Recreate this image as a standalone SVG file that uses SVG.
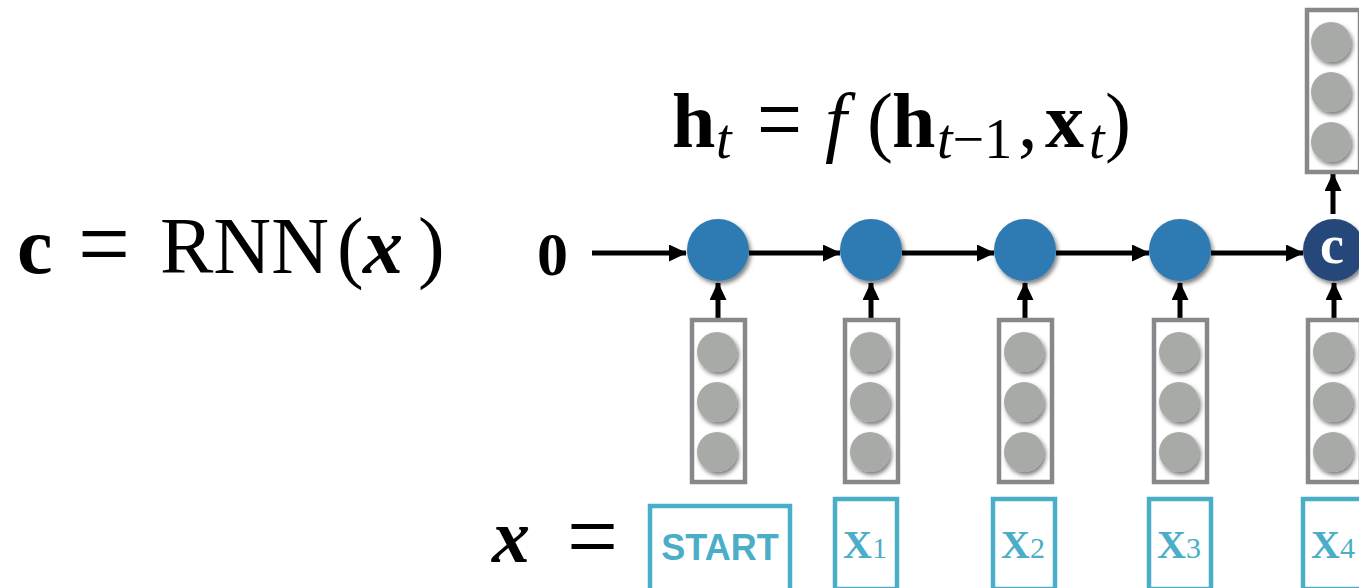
<svg xmlns="http://www.w3.org/2000/svg" width="1359" height="588" viewBox="0 0 1359 588">
<style>
.m{font-family:"Liberation Serif","Times New Roman",serif;fill:#000}
.b{font-weight:bold}
.i{font-style:italic}
.hid{fill:#2f7ab2}
.cnode{fill:#28477a}
.vec{fill:#fff;stroke:#86888b;stroke-width:4.5}
.dot{fill:#a8aaa8}
.inbox{fill:#fff;stroke:#4aaec8;stroke-width:4.5}
.tok{font-family:"Liberation Serif","Times New Roman",serif;font-weight:bold;fill:#4aaec8}
.conn line{stroke:#000;stroke-width:5}
</style>
<defs>
<marker id="ah" markerUnits="userSpaceOnUse" markerWidth="18" markerHeight="17" refX="17" refY="8.5" orient="auto">
<path d="M0,0 L18,8.5 L0,17 z" fill="#000"/>
</marker>
<filter id="sh" x="-30%" y="-30%" width="160%" height="160%">
<feDropShadow dx="2" dy="3" stdDeviation="2" flood-color="#000" flood-opacity="0.5"/>
</filter>
</defs>
<rect width="1359" height="588" fill="#fff"/>

<g id="formula-c">
<text class="m b" x="17" y="273" font-size="80">c</text>
<text class="m" x="78" y="273" font-size="80" textLength="52" lengthAdjust="spacingAndGlyphs" transform="translate(0,-75.6) scale(1,1.3)">=</text>
<text class="m" x="160" y="273" font-size="80">RNN</text>
<text class="m" x="337" y="273" font-size="80">(</text>
<text class="m b i" x="363" y="273" font-size="80">x</text>
<text class="m" x="418" y="273" font-size="80">)</text>
</g>

<g id="formula-h">
<text class="m b" x="672" y="147" font-size="78">h</text>
<text class="m i" x="716" y="158" font-size="56">t</text>
<text class="m" x="757" y="147" font-size="78" textLength="45" lengthAdjust="spacingAndGlyphs" transform="translate(0,-38) scale(1,1.3)">=</text>
<text class="m i" x="825" y="147" font-size="78">f</text>
<text class="m" x="867" y="147" font-size="78">(</text>
<text class="m b" x="892" y="147" font-size="78">h</text>
<text class="m" x="937" y="158" font-size="56"><tspan class="i">t</tspan>−1</text>
<text class="m" x="1018" y="147" font-size="78">,</text>
<text class="m b" x="1045" y="147" font-size="78">x</text>
<text class="m i" x="1089" y="158" font-size="56">t</text>
<text class="m" x="1105" y="147" font-size="78">)</text>
</g>

<g id="zero"><text class="m b" x="537" y="275" font-size="62">0</text></g>

<g id="formula-x">
<text class="m b i" x="492" y="562" font-size="76">x</text>
<text class="m" x="567" y="564" font-size="76" textLength="51" lengthAdjust="spacingAndGlyphs" transform="translate(0,-163) scale(1,1.3)">=</text>
</g>

<g id="connectors" class="conn">
<line x1="592" y1="253" x2="686" y2="253" marker-end="url(#ah)"/>
<line x1="749" y1="253" x2="840" y2="253" marker-end="url(#ah)"/>
<line x1="902" y1="253" x2="994" y2="253" marker-end="url(#ah)"/>
<line x1="1056" y1="253" x2="1149" y2="253" marker-end="url(#ah)"/>
<line x1="1211" y1="253" x2="1303" y2="253" marker-end="url(#ah)"/>
<line x1="718" y1="318" x2="718" y2="283" marker-end="url(#ah)"/>
<line x1="871" y1="318" x2="871" y2="283" marker-end="url(#ah)"/>
<line x1="1025" y1="318" x2="1025" y2="283" marker-end="url(#ah)"/>
<line x1="1180" y1="318" x2="1180" y2="283" marker-end="url(#ah)"/>
<line x1="1334" y1="318" x2="1334" y2="283" marker-end="url(#ah)"/>
<line x1="1333" y1="214" x2="1333" y2="174" marker-end="url(#ah)"/>
</g>

<g id="h1"><circle class="hid" cx="718" cy="250" r="31" filter="url(#sh)"/></g>
<g id="h2"><circle class="hid" cx="871" cy="250" r="31" filter="url(#sh)"/></g>
<g id="h3"><circle class="hid" cx="1025" cy="250" r="31" filter="url(#sh)"/></g>
<g id="h4"><circle class="hid" cx="1180" cy="250" r="31" filter="url(#sh)"/></g>
<g id="c-node"><circle class="cnode" cx="1334" cy="250" r="31" filter="url(#sh)"/>
<text class="m b" x="1332" y="263" font-size="54" style="fill:#fff" text-anchor="middle">c</text></g>

<g id="vec1"><rect class="vec" x="692" y="320" width="53" height="162"/>
<circle class="dot" cx="717" cy="352" r="20" filter="url(#sh)"/><circle class="dot" cx="717" cy="402" r="20" filter="url(#sh)"/><circle class="dot" cx="717" cy="452" r="20" filter="url(#sh)"/></g>
<g id="vec2"><rect class="vec" x="845" y="320" width="53" height="162"/>
<circle class="dot" cx="870" cy="352" r="20" filter="url(#sh)"/><circle class="dot" cx="870" cy="402" r="20" filter="url(#sh)"/><circle class="dot" cx="870" cy="452" r="20" filter="url(#sh)"/></g>
<g id="vec3"><rect class="vec" x="999" y="320" width="53" height="162"/>
<circle class="dot" cx="1024" cy="352" r="20" filter="url(#sh)"/><circle class="dot" cx="1024" cy="402" r="20" filter="url(#sh)"/><circle class="dot" cx="1024" cy="452" r="20" filter="url(#sh)"/></g>
<g id="vec4"><rect class="vec" x="1154" y="320" width="53" height="162"/>
<circle class="dot" cx="1179" cy="352" r="20" filter="url(#sh)"/><circle class="dot" cx="1179" cy="402" r="20" filter="url(#sh)"/><circle class="dot" cx="1179" cy="452" r="20" filter="url(#sh)"/></g>
<g id="vec5"><rect class="vec" x="1308" y="320" width="53" height="162"/>
<circle class="dot" cx="1333" cy="352" r="20" filter="url(#sh)"/><circle class="dot" cx="1333" cy="402" r="20" filter="url(#sh)"/><circle class="dot" cx="1333" cy="452" r="20" filter="url(#sh)"/></g>
<g id="vec-out"><rect class="vec" x="1307" y="10" width="53" height="162"/>
<circle class="dot" cx="1331" cy="42" r="20" filter="url(#sh)"/><circle class="dot" cx="1331" cy="92" r="20" filter="url(#sh)"/><circle class="dot" cx="1331" cy="142" r="20" filter="url(#sh)"/></g>

<g id="tok-start"><rect class="inbox" x="650" y="506" width="140" height="90"/>
<text x="720" y="560" font-family="Liberation Sans,Arial,sans-serif" font-weight="bold" font-size="36" fill="#4aaec8" text-anchor="middle">START</text></g>
<g id="tok-x1"><rect class="inbox" x="835" y="499" width="62" height="90"/>
<text class="tok" x="843" y="558" font-size="40">X<tspan font-size="30" font-weight="normal">1</tspan></text></g>
<g id="tok-x2"><rect class="inbox" x="993" y="499" width="62" height="90"/>
<text class="tok" x="1001" y="558" font-size="40">X<tspan font-size="30" font-weight="normal">2</tspan></text></g>
<g id="tok-x3"><rect class="inbox" x="1149" y="499" width="62" height="90"/>
<text class="tok" x="1157" y="558" font-size="40">X<tspan font-size="30" font-weight="normal">3</tspan></text></g>
<g id="tok-x4"><rect class="inbox" x="1303" y="499" width="62" height="90"/>
<text class="tok" x="1311" y="558" font-size="40">X<tspan font-size="30" font-weight="normal">4</tspan></text></g>
</svg>
